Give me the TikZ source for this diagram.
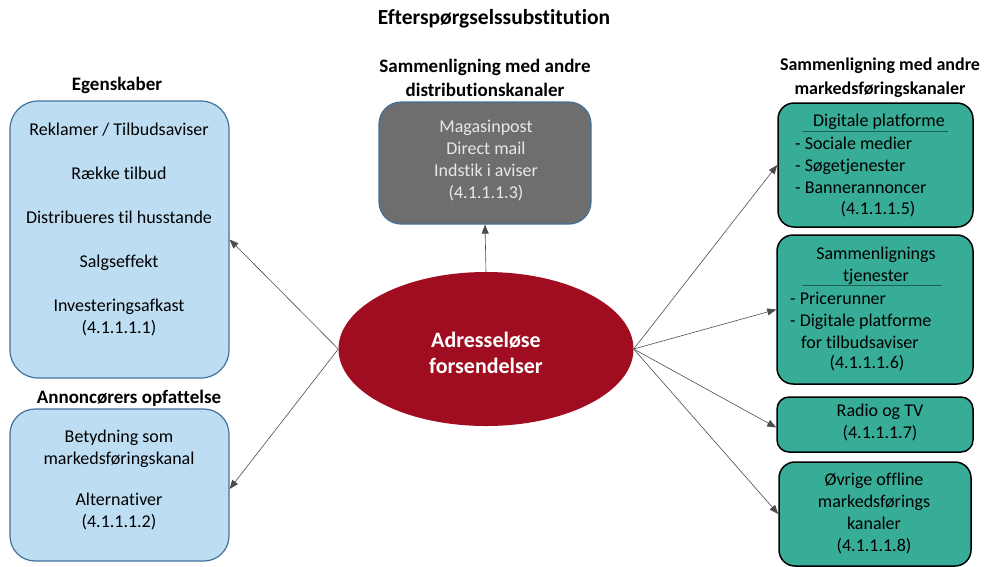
\documentclass[tikz,border=0pt]{standalone}
\usepackage{fontspec}
\setmainfont{Carlito}[Ligatures=NoCommon]
\usetikzlibrary{shapes.geometric,arrows.meta}
\definecolor{lysblaa}{RGB}{189,221,243}
\definecolor{blaakant}{RGB}{65,113,156}
\definecolor{graa}{RGB}{110,110,110}
\definecolor{lysgraa}{RGB}{232,232,232}
\definecolor{vinrod}{RGB}{160,13,32}
\definecolor{groen}{RGB}{55,172,150}
\definecolor{moerkgroen}{RGB}{30,95,85}
\begin{document}
\begin{tikzpicture}[x=1pt,y=-1pt,
  every node/.style={font=\fontsize{18}{22}\selectfont, align=center, inner sep=0pt},
  overskrift/.style={font=\fontsize{19}{24}\selectfont\bfseries},
  blaaboks/.style={draw=blaakant, line width=1.2pt, fill=lysblaa, rounded corners=28pt},
  graaboks/.style={draw=blaakant, line width=1.2pt, fill=graa, rounded corners=22pt},
  groenboks/.style={draw=black, line width=1.5pt, fill=groen, rounded corners=16pt},
  pil/.style={-{Triangle[length=9pt,width=7pt]}, draw=black!70, line width=0.6pt}]
\useasboundingbox (0,0) rectangle (984,566);

% overskrifter
\node[overskrift, font=\fontsize{21.5}{26}\selectfont\bfseries] (titel) at (494,19) {Efterspørgselssubstitution};
\node[overskrift] (egenhdr) at (117,85) {Egenskaber};
\node[overskrift] (annhdr) at (129,398) {Annoncørers opfattelse};
\node[overskrift] (disthdr) at (485,78) {Sammenligning med andre\\distributionskanaler};
\node[overskrift, font=\fontsize{18}{24}\selectfont\bfseries] (markhdr) at (880,78) {Sammenligning med andre\\markedsføringskanaler};

% venstre side
\node[blaaboks, minimum width=219pt, minimum height=277pt] (egen) at (119.5,239.5) {};
\node (egentxt) at (119,229) {Reklamer / Tilbudsaviser\\[22pt]Række tilbud\\[22pt]Distribueres til husstande\\[22pt]Salgseffekt\\[22pt]Investeringsafkast\\(4.1.1.1.1)};
\node[blaaboks, rounded corners=25pt, minimum width=219pt, minimum height=152pt] (ann) at (119.5,485) {};
\node (anntxt) at (119,479.5) {Betydning som\\markedsføringskanal\\[19pt]Alternativer\\(4.1.1.1.2)};

% midten
\node[graaboks, minimum width=212pt, minimum height=122pt] (dist) at (485,163) {};
\node[text=lysgraa] (disttxt) at (486,160.5) {Magasinpost\\Direct mail\\Indstik i aviser\\(4.1.1.1.3)};
\node[ellipse, fill=vinrod, minimum width=295pt, minimum height=154pt] (adr) at (486,349) {};
\node[text=white, font=\fontsize{22}{26}\selectfont\bfseries] (adrtxt) at (486,353) {Adresseløse\\forsendelser};

% hoejre side
\node[groenboks, minimum width=195pt, minimum height=124pt] (digi) at (875.5,165) {};
\node (digihdr) at (879,122) {Digitale platforme};
\draw[moerkgroen, line width=1pt] (802,131) -- (948,131);
\node[anchor=west, align=left] (digitxt) at (795,165) {- Sociale medier\\- Søgetjenester\\- Bannerannoncer};
\node (digikode) at (878,209) {(4.1.1.1.5)};

\node[groenboks, minimum width=196pt, minimum height=149pt] (samm) at (875,309.5) {};
\node (sammhdr) at (876,266) {Sammenlignings\\tjenester};
\draw[moerkgroen, line width=1pt] (802,285) -- (942,285);
\node[anchor=west, align=left] (sammtxt) at (790,320) {- Pricerunner\\- Digitale platforme\\\hspace*{11pt}for tilbudsaviser};
\node (sammkode) at (867,363) {(4.1.1.1.6)};

\node[groenboks, rounded corners=12pt, minimum width=196pt, minimum height=55pt] (radio) at (875,424.5) {};
\node (radiotxt) at (880,422.5) {Radio og TV\\(4.1.1.1.7)};

\node[groenboks, minimum width=192pt, minimum height=104pt] (oevr) at (875,514) {};
\node (oevrtxt) at (874,513) {Øvrige offline\\markedsførings\\kanaler\\(4.1.1.1.8)};

% pile
\draw[pil] (adr.west) -- (egen.east);
\draw[pil] (adr.west) -- ([yshift=-4pt]ann.east);
\draw[pil] (adr.north) -- (dist.south);
\draw[pil] (adr.east) -- (digi.west);
\draw[pil] (adr.east) -- (samm.west);
\draw[pil] (adr.east) -- ([yshift=-3pt]radio.west);
\draw[pil] (adr.east) -- (oevr.west);
\end{tikzpicture}
\end{document}
